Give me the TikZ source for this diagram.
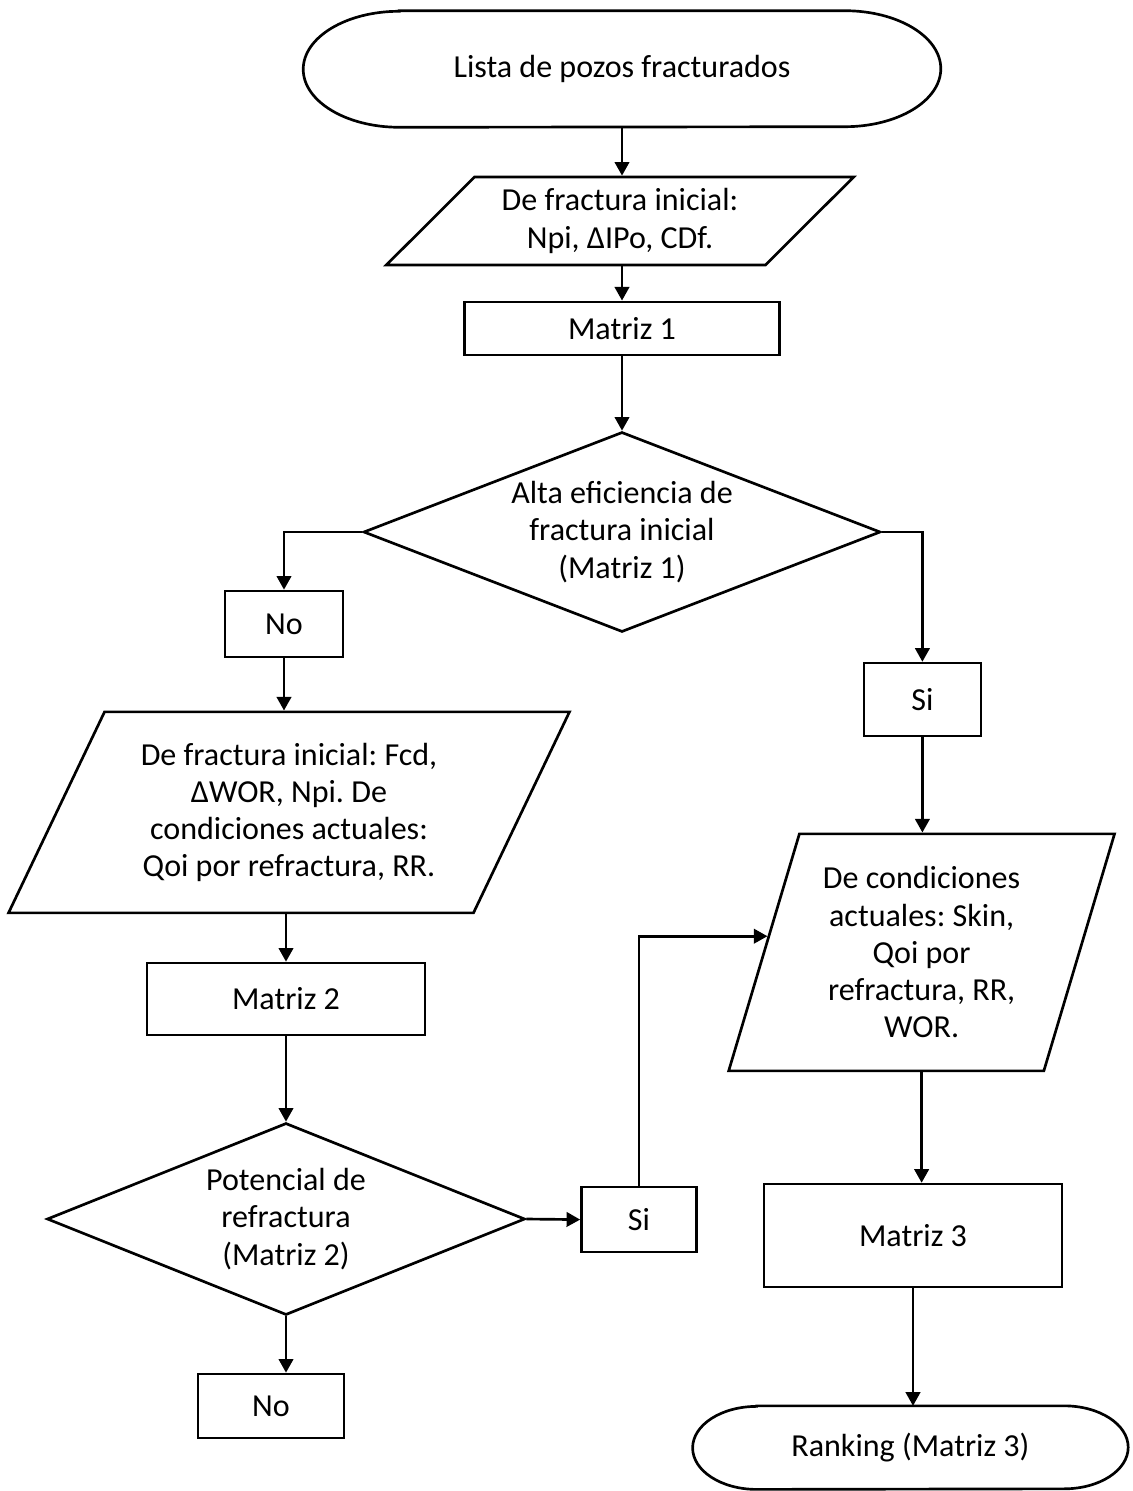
\documentclass[tikz,border=0pt]{standalone}
\usepackage{fontspec}
\setmainfont{Carlito}
\usetikzlibrary{arrows.meta,shapes.geometric}
\frenchspacing
\newcommand{\flowfont}{\fontsize{22.8pt}{26.5pt}\selectfont}

\begin{document}
\begin{tikzpicture}[
  box/.style={draw,line width=1.9pt,font=\flowfont,align=center,inner sep=0pt},
  term/.style={font=\flowfont,align=center,inner sep=0pt},
  data/.style={box,trapezium,trapezium stretches=true},
  decision/.style={box,diamond,shape aspect=#1},
  arr/.style={-{Triangle[length=3.4mm,width=3.6mm]},line width=1.9pt}]
\useasboundingbox (0,0) rectangle (28.325,-37.275);
% column in the middle
\node[term,minimum width=15.925cm,minimum height=2.9cm] (top) at (15.55,-1.725) {Lista de pozos fracturados};
\node[data,trapezium left angle=42,trapezium right angle=138,minimum width=11.7cm,minimum height=2.2cm] (ini) at (15.5,-5.525) {De fractura inicial:\\Npi, ΔIPo, CDf.};
\node[box,minimum width=7.875cm,minimum height=1.325cm] (m1) at (15.55,-8.21) {Matriz 1};
\node[decision=2.585,minimum width=12.925cm,minimum height=5cm] (alta) at (15.55,-13.3) {Alta eficiencia de\\fractura inicial\\(Matriz 1)};
% left branch
\node[box,minimum width=2.95cm,minimum height=1.65cm] (no1) at (7.1,-15.6) {No};
\node[data,trapezium left angle=61,trapezium right angle=119,minimum width=14.05cm,minimum height=5.025cm] (fcd) at (7.225,-20.31) {De fractura inicial: Fcd,\\ΔWOR, Npi. De\\condiciones actuales:\\Qoi por refractura, RR.};
\node[box,minimum width=6.95cm,minimum height=1.8cm] (m2) at (7.15,-24.975) {Matriz 2};
\node[decision=2.49,minimum width=11.95cm,minimum height=4.8cm] (pot) at (7.15,-30.475) {Potencial de\\refractura\\(Matriz 2)};
\node[box,minimum width=2.875cm,minimum height=1.625cm] (si2) at (15.975,-30.49) {Si};
\node[box,minimum width=3.65cm,minimum height=1.6cm] (no2) at (6.775,-35.15) {No};
% right branch
\node[box,minimum width=2.925cm,minimum height=1.825cm] (si1) at (23.06,-17.49) {Si};
\node[data,trapezium left angle=71.6,trapezium right angle=108.4,minimum width=9.675cm,minimum height=5.925cm] (act) at (23.04,-23.81) {De condiciones\\actuales: Skin,\\Qoi por\\refractura, RR,\\WOR.};
\node[box,minimum width=7.45cm,minimum height=2.575cm] (m3) at (22.825,-30.89) {Matriz 3};
\node[term,minimum width=10.875cm,minimum height=2.075cm] (rank) at (22.76,-36.19) {Ranking (Matriz 3)};
% terminal outlines
\draw[line width=1.9pt] ([xshift=2.4cm]top.north west) -- ([xshift=-2.4cm]top.north east)
  arc[start angle=90,end angle=-90,x radius=2.4cm,y radius=1.45cm]
  -- ([xshift=2.4cm]top.south west)
  arc[start angle=270,end angle=90,x radius=2.4cm,y radius=1.45cm] -- cycle;
\draw[line width=1.9pt] ([xshift=1.6cm]rank.north west) -- ([xshift=-1.6cm]rank.north east)
  arc[start angle=90,end angle=-90,x radius=1.6cm,y radius=1.0375cm]
  -- ([xshift=1.6cm]rank.south west)
  arc[start angle=270,end angle=90,x radius=1.6cm,y radius=1.0375cm] -- cycle;
% connectors
\draw[arr] (top.south) -- (top.south |- ini.north);
\draw[arr] (ini.south -| m1.north) -- (m1.north);
\draw[arr] (m1.south) -- (alta.north);
\draw[arr] (alta.west) -| (no1.north);
\draw[arr] (alta.east) -| (si1.north);
\draw[arr] (no1.south) -- (no1.south |- fcd.north);
\draw[arr] (fcd.south -| m2.north) -- (m2.north);
\draw[arr] (m2.south) -- (pot.north);
\draw[arr] (pot.east) -- (si2.west);
\draw[arr] (pot.south) -- (pot.south |- no2.north);
\draw[arr] (si2.north) |- (act.174);
\draw[arr] (si1.south) -- (si1.south |- act.north);
\draw[arr] (act.south) -- (act.south |- m3.north);
\draw[arr] (m3.south) -- (m3.south |- rank.north);
\end{tikzpicture}
\end{document}
